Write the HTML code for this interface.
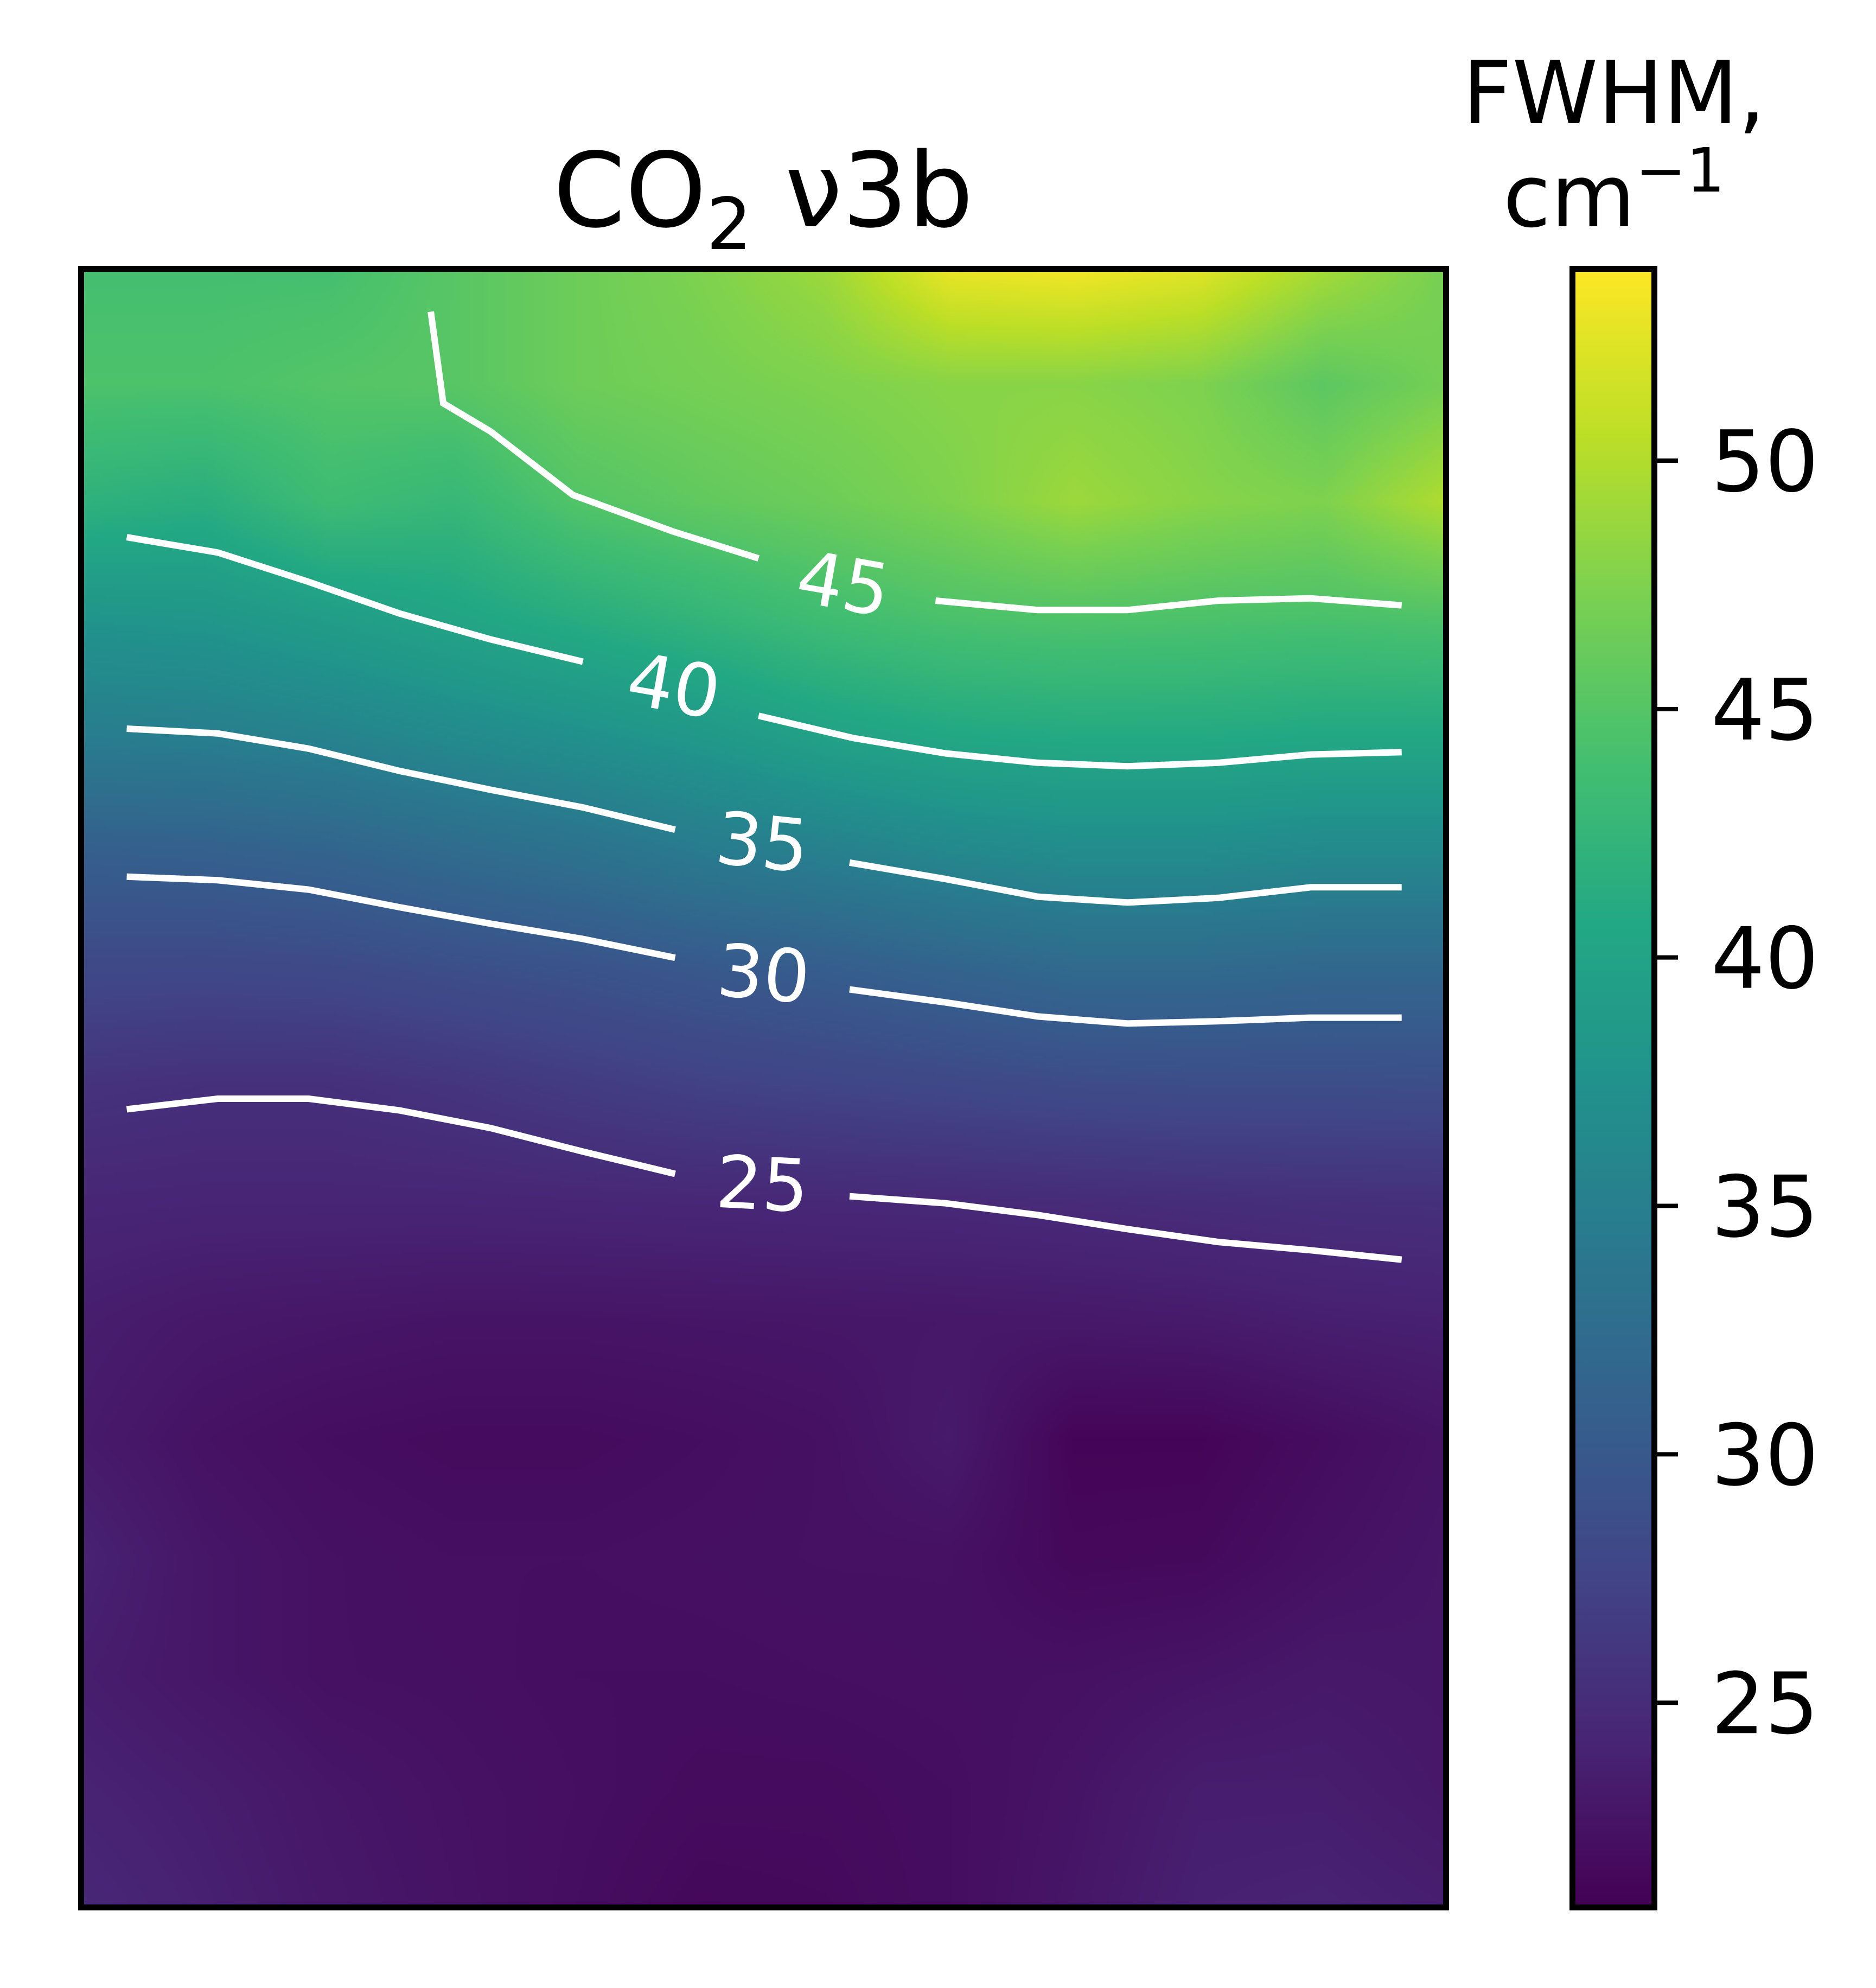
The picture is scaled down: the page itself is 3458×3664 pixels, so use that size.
<!DOCTYPE html>
<html><head><meta charset="utf-8">
<style>
html,body{margin:0;padding:0;background:#fff;}
body{width:3458px;height:3664px;position:relative;overflow:hidden;font-family:"DejaVu Sans","Liberation Sans",sans-serif;}
#hm{position:absolute;left:144px;top:490px;width:2527px;height:3031px;}
#ov{position:absolute;left:0;top:0;}
</style></head>
<body>
<canvas id="hm" width="506" height="607"></canvas>
<svg id="ov" width="3458" height="3664" xmlns="http://www.w3.org/2000/svg">
<defs>
<linearGradient id="vir" x1="0" y1="1" x2="0" y2="0">
<stop offset="0" stop-color="#440154"/><stop offset="0.1" stop-color="#482475"/><stop offset="0.2" stop-color="#414487"/><stop offset="0.3" stop-color="#355f8d"/><stop offset="0.4" stop-color="#2a788e"/><stop offset="0.5" stop-color="#21918c"/><stop offset="0.6" stop-color="#22a884"/><stop offset="0.7" stop-color="#44bf70"/><stop offset="0.8" stop-color="#7ad151"/><stop offset="0.9" stop-color="#bddf26"/><stop offset="1" stop-color="#fde725"/>
</linearGradient>
</defs>
<g id="contours"></g>
<g id="clabels"></g>
<rect x="149.5" y="495.5" width="2516" height="3020" fill="none" stroke="#000" stroke-width="11"/>
<text x="1407" y="417" font-size="190" text-anchor="middle" fill="#000">CO<tspan font-size="132" dy="42">2</tspan><tspan dy="-42"> ν3b</tspan></text>
<rect x="2898.5" y="495.5" width="151" height="3020" fill="url(#vir)" stroke="#000" stroke-width="11"/>
<g id="cbticks"></g>
<text x="2975" y="227" font-size="160" text-anchor="middle" fill="#000">FWHM,</text>
<text x="2975" y="417" font-size="160" text-anchor="middle" fill="#000">cm<tspan font-size="112" dy="-64">−1</tspan></text>
</svg>
<script>
// grid: 12 columns (x 0..11) x 15 rows (y 0..14), values in cm^-1
const gridValues = [
[44,44,44,45.2,46.5,47.5,49,53,53.5,52.5,49.5,47],
[44.5,44.5,45,45.2,46.5,47,47.5,48,48,47.5,45.5,47],
[42,41.5,43.5,42.8,44.9,45.8,46.5,47.5,49,48,47.5,50],
[37.8,38.1,39.1,40.2,41.3,42.4,43.6,44.4,44.7,44.5,44.3,44.6],
[34.7,34.9,35.5,36.5,37.4,38.4,39.8,40.6,40.9,40.9,40.6,40.6],
[30.7,30.9,31.4,32.3,33.2,34.4,35.1,36.1,36.7,36.7,36.3,36.3],
[28.0,27.9,28.1,28.7,29.2,29.9,30.5,31.3,32.1,32.1,31.8,31.8],
[25.6,25.3,25.3,25.8,26.5,27.1,27.5,27.9,28.3,28.5,28.5,28.6],
[24.3,24.2,24.2,24.2,24.3,24.4,24.5,24.6,24.8,25.0,25.2,25.3],
[23.5,23.0,22.8,22.6,22.6,22.7,22.8,22.9,23.0,23.2,23.6,23.8],
[23.2,22.4,22.0,21.8,21.8,22.0,22.3,23.2,21.2,21.2,21.9,22.6],
[24.0,22.8,22.3,22.1,22.1,22.2,22.3,22.3,21.5,21.6,22.3,22.8],
[23.5,22.8,22.3,22.2,22.0,22.0,22.1,22.2,22.3,22.6,23.0,22.8],
[24.0,23.5,22.8,22.4,22.1,21.8,21.8,22.0,22.6,23.5,23.5,23.0],
[24.5,23.8,23.0,22.5,22.0,21.5,21.6,22.0,22.8,23.8,24.0,23.6]
];
const vmin = 20.82, vmax = 53.92;
const cbTicks = [25,30,35,40,45,50];
const contourLevels = [45,40,35,30,25];
const contourX = [
[[2.83,2.93,3.31,3.97,4.77,5.46],[6.88,7.70,8.42,9.15,9.89,10.62]],
[[0.39,1.12,1.85,2.58,3.31,4.05],[5.46,6.22,6.96,7.70,8.42,9.15,9.89,10.62]],
[[0.39,1.12,1.85,2.58,3.31,4.05,4.79],[6.19,6.96,7.70,8.42,9.15,9.89,10.62]],
[[0.39,1.12,1.85,2.58,3.31,4.05,4.79],[6.19,6.96,7.70,8.42,9.15,9.89,10.62]],
[[0.39,1.12,1.85,2.58,3.31,4.05,4.79],[6.19,6.96,7.70,8.42,9.15,9.89,10.62]]
];
const contourY = [
[[0.39,1.17,1.41,1.95,2.26,2.49],[2.85,2.93,2.93,2.85,2.83,2.89]],
[[2.31,2.44,2.69,2.96,3.18,3.37],[3.83,4.02,4.15,4.23,4.26,4.23,4.16,4.14]],
[[3.94,3.98,4.11,4.30,4.46,4.61,4.80],[5.08,5.22,5.37,5.42,5.38,5.29,5.29]],
[[5.20,5.23,5.31,5.46,5.60,5.73,5.89],[6.16,6.27,6.39,6.45,6.43,6.40,6.40]],
[[7.18,7.09,7.09,7.19,7.34,7.54,7.73],[7.92,7.98,8.08,8.20,8.31,8.38,8.46]]
];
const labelX = [6.14,4.78,5.49,5.50,5.49];
const labelY = [2.71,3.58,4.91,6.03,7.82];
const labelRot = [10,10,6,5,3];

const X0=144, X1=2671, Y0=490, Y1=3521;
function sx(x){return X0 + x/11*(X1-X0);}
function sy(y){return Y0 + y/14*(Y1-Y0);}
function cy(v){return Y0 + (vmax - v)/(vmax - vmin)*(Y1-Y0);}

const vir=[[68,1,84],[72,36,117],[65,68,135],[53,95,141],[42,120,142],[33,145,140],[34,168,132],[68,191,112],[122,209,81],[189,223,38],[253,231,37]];
function cmap(v){
  let t=(v-vmin)/(vmax-vmin); t=Math.max(0,Math.min(1,t))*10;
  const i=Math.min(9,Math.floor(t)), f=t-i;
  return vir[i].map((c,k)=>Math.round(c+(vir[i+1][k]-c)*f));
}
const cv=document.getElementById('hm'), ctx=cv.getContext('2d');
const W=cv.width,H=cv.height, img=ctx.createImageData(W,H);
const nr=gridValues.length, nc=gridValues[0].length;
for(let py=0;py<H;py++){
  const gy=py/(H-1)*(nr-1), r=Math.min(nr-2,Math.floor(gy)), fy=gy-r;
  for(let px=0;px<W;px++){
    const gx=px/(W-1)*(nc-1), c=Math.min(nc-2,Math.floor(gx)), fx=gx-c;
    const v=(gridValues[r][c]*(1-fx)+gridValues[r][c+1]*fx)*(1-fy)+(gridValues[r+1][c]*(1-fx)+gridValues[r+1][c+1]*fx)*fy;
    const col=cmap(v), o=(py*W+px)*4;
    img.data[o]=col[0];img.data[o+1]=col[1];img.data[o+2]=col[2];img.data[o+3]=255;
  }
}
ctx.putImageData(img,0,0);

const NS='http://www.w3.org/2000/svg';
const cg=document.getElementById('contours'), lg=document.getElementById('clabels');
contourLevels.forEach((lv,i)=>{
  contourX[i].forEach((seg,s)=>{
    const pl=document.createElementNS(NS,'polyline');
    pl.setAttribute('points',seg.map((x,k)=>sx(x).toFixed(1)+','+sy(contourY[i][s][k]).toFixed(1)).join(' '));
    pl.setAttribute('fill','none');pl.setAttribute('stroke','#fff');pl.setAttribute('stroke-width','12');
    
    
    cg.appendChild(pl);
  });
  const t=document.createElementNS(NS,'text');
  const lx=sx(labelX[i]), ly=sy(labelY[i]);
  t.setAttribute('x',lx);t.setAttribute('y',ly);
  t.setAttribute('text-anchor','middle');t.setAttribute('dominant-baseline','central');
  t.setAttribute('font-size','134');t.setAttribute('fill','#fff');
  t.setAttribute('transform','rotate('+labelRot[i]+' '+lx+' '+ly+')');
  t.textContent=lv;
  
  
  lg.appendChild(t);
});
const tg=document.getElementById('cbticks');
cbTicks.forEach(v=>{
  const y=cy(v);
  const ln=document.createElementNS(NS,'line');
  ln.setAttribute('x1',3055);ln.setAttribute('x2',3093);ln.setAttribute('y1',y);ln.setAttribute('y2',y);
  ln.setAttribute('stroke','#000');ln.setAttribute('stroke-width','8');
  
  
  tg.appendChild(ln);
  const t=document.createElementNS(NS,'text');
  t.setAttribute('x',3154);t.setAttribute('y',y+56);
  t.setAttribute('font-size','156');t.setAttribute('fill','#000');
  t.textContent=v;
  
  
  tg.appendChild(t);
});
</script>
</body></html>
